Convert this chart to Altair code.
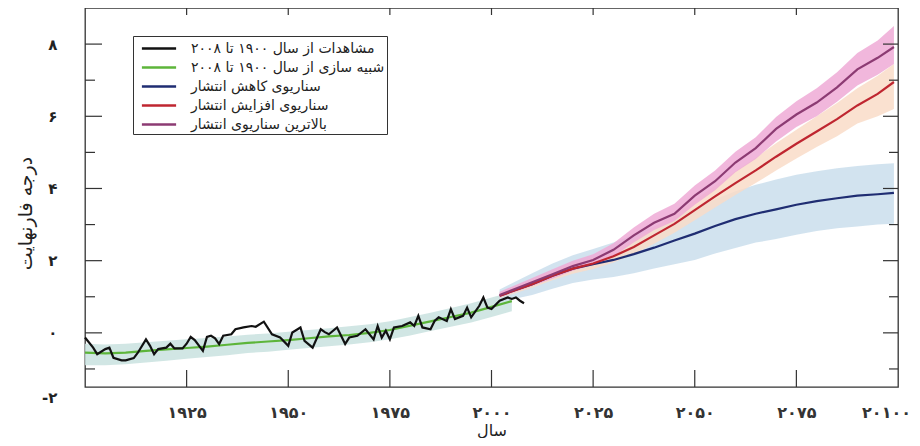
import json
import altair as alt
import pandas as pd

# ---------------- data ----------------
series_labels = [
    "مشاهدات از سال ۱۹۰۰ تا ۲۰۰۸",
    "شبیه سازی از سال ۱۹۰۰ تا ۲۰۰۸",
    "سناریوی کاهش انتشار",
    "سناریوی افزایش انتشار",
    "بالاترین سناریوی انتشار",
]
series_colors = ["#111111", "#5db53a", "#1f2d72", "#bf2630", "#8c3b73"]

obs_years = [1900, 1902, 1903, 1905, 1906, 1907, 1909, 1910, 1912, 1913, 1915, 1916,
             1917, 1918, 1920, 1921, 1922, 1924, 1925, 1926, 1927, 1929, 1930, 1931,
             1932, 1933, 1934, 1936, 1937, 1939, 1941, 1942, 1944, 1946, 1948, 1950,
             1951, 1953, 1954, 1956, 1958, 1959, 1960, 1962, 1964, 1965, 1967, 1969,
             1971, 1972, 1973, 1974, 1975, 1976, 1978, 1980, 1981, 1982, 1983, 1985,
             1986, 1987, 1989, 1990, 1991, 1993, 1994, 1995, 1997, 1998, 1999, 2000,
             2002, 2004, 2005, 2006, 2007, 2008]
obs_values = [-0.13, -0.41, -0.59, -0.45, -0.41, -0.69, -0.76, -0.76, -0.70, -0.55, -0.18, -0.36,
              -0.59, -0.45, -0.41, -0.30, -0.43, -0.43, -0.30, -0.11, -0.20, -0.50, -0.11, -0.08,
              -0.15, -0.31, -0.08, -0.04, 0.10, 0.15, 0.19, 0.17, 0.31, -0.04, -0.13, -0.36,
              0.01, 0.15, -0.22, -0.41, 0.10, 0.02, -0.04, 0.15, -0.31, -0.13, -0.08, 0.10,
              -0.18, 0.19, -0.13, 0.06, -0.18, 0.15, 0.19, 0.29, 0.19, 0.47, 0.15, 0.10,
              0.33, 0.43, 0.33, 0.66, 0.38, 0.47, 0.70, 0.43, 0.75, 0.98, 0.70, 0.66,
              0.89, 0.98, 0.94, 0.98, 0.89, 0.82]

sim_years = [1900, 1905, 1910, 1915, 1920, 1925, 1930, 1935, 1940, 1945, 1950,
             1955, 1960, 1965, 1970, 1975, 1980, 1985, 1990, 1995, 2000, 2005]
sim_values = [-0.55, -0.57, -0.55, -0.50, -0.46, -0.42, -0.38, -0.33, -0.28, -0.24, -0.20,
              -0.15, -0.10, -0.06, 0.00, 0.08, 0.20, 0.32, 0.44, 0.56, 0.72, 0.88]
sim_lo = [-0.90, -0.90, -0.87, -0.82, -0.77, -0.72, -0.67, -0.62, -0.56, -0.52, -0.47,
          -0.42, -0.37, -0.32, -0.26, -0.18, -0.07, 0.05, 0.17, 0.29, 0.44, 0.60]
sim_hi = [-0.30, -0.32, -0.30, -0.26, -0.22, -0.18, -0.14, -0.10, -0.05, -0.02, 0.03,
          0.08, 0.13, 0.18, 0.24, 0.32, 0.44, 0.56, 0.69, 0.82, 0.98, 1.13]

proj_years = [2002, 2010, 2015, 2020, 2025, 2030, 2035, 2040, 2045, 2050,
              2055, 2060, 2065, 2070, 2075, 2080, 2085, 2090, 2095, 2099]

low_values = [1.03, 1.35, 1.58, 1.78, 1.90, 2.02, 2.18, 2.36, 2.56, 2.75,
              2.96, 3.15, 3.30, 3.42, 3.55, 3.65, 3.73, 3.80, 3.84, 3.88]
low_lo = [0.85, 1.05, 1.22, 1.38, 1.48, 1.55, 1.65, 1.78, 1.90, 2.02,
          2.20, 2.35, 2.50, 2.60, 2.72, 2.82, 2.90, 2.95, 3.00, 3.02]
low_hi = [1.20, 1.65, 1.92, 2.15, 2.32, 2.50, 2.72, 2.95, 3.20, 3.45,
          3.70, 3.92, 4.10, 4.25, 4.38, 4.48, 4.56, 4.62, 4.67, 4.70]

mid_values = [1.03, 1.35, 1.58, 1.78, 1.92, 2.12, 2.38, 2.70, 3.02, 3.40,
              3.78, 4.15, 4.50, 4.88, 5.24, 5.58, 5.92, 6.30, 6.62, 6.95]
mid_lo = [0.96, 1.25, 1.46, 1.64, 1.77, 1.95, 2.18, 2.47, 2.77, 3.12,
          3.47, 3.82, 4.15, 4.50, 4.83, 5.15, 5.45, 5.80, 6.00, 6.20]
mid_hi = [1.12, 1.48, 1.72, 1.93, 2.08, 2.30, 2.58, 2.93, 3.27, 3.68,
          4.08, 4.48, 4.85, 5.25, 5.63, 6.00, 6.37, 6.78, 7.12, 7.45]

high_values = [1.05, 1.40, 1.62, 1.85, 2.02, 2.30, 2.70, 3.05, 3.30, 3.80,
               4.20, 4.72, 5.12, 5.65, 6.05, 6.38, 6.80, 7.30, 7.62, 7.92]
high_lo = [0.98, 1.30, 1.50, 1.72, 1.88, 2.12, 2.50, 2.85, 3.10, 3.55,
           3.95, 4.45, 4.82, 5.30, 5.70, 6.00, 6.40, 6.85, 7.15, 7.45]
high_hi = [1.14, 1.52, 1.76, 2.00, 2.18, 2.48, 2.92, 3.30, 3.58, 4.08,
           4.50, 5.02, 5.42, 5.98, 6.42, 6.78, 7.22, 7.75, 8.10, 8.50]

band_colors = {"sim": "#c9e2df", "low": "#cadeec", "mid": "#f9dcc8", "high": "#eeaad6"}

x_tick_values = [1925, 1950, 1975, 2000, 2025, 2050, 2075, 2100]
x_tick_labels = ["۱۹۲۵", "۱۹۵۰", "۱۹۷۵", "۲۰۰۰", "۲۰۲۵", "۲۰۵۰", "۲۰۷۵", "۲۰۱۰۰"]
y_tick_values = [-1.5, 0, 2, 4, 6, 8]
y_tick_labels = ["-۲", "۰", "۲", "۴", "۶", "۸"]
y_minor_values = [-1, 1, 3, 5, 7]

x_title = "سال"
y_title = "درجه فارنهایت"

# ---------------- tables ----------------
lines = []
for y, v in zip(obs_years, obs_values):
    lines.append({"year": y, "value": v, "series": series_labels[0]})
for y, v in zip(sim_years, sim_values):
    lines.append({"year": y, "value": v, "series": series_labels[1]})
for vals, lab in [(low_values, series_labels[2]), (mid_values, series_labels[3]),
                  (high_values, series_labels[4])]:
    for y, v in zip(proj_years, vals):
        lines.append({"year": y, "value": v, "series": lab})
lines_df = pd.DataFrame(lines)

bands = []
for y, lo, hi in zip(sim_years, sim_lo, sim_hi):
    bands.append({"year": y, "lo": lo, "hi": hi, "band": "sim"})
for key, los, his in [("low", low_lo, low_hi), ("mid", mid_lo, mid_hi), ("high", high_lo, high_hi)]:
    for y, lo, hi in zip(proj_years, los, his):
        bands.append({"year": y, "lo": lo, "hi": hi, "band": key})
bands_df = pd.DataFrame(bands)

ticks_df = pd.DataFrame(
    [{"v": v, "kind": "ymajor"} for v in y_tick_values if v >= 0]
    + [{"v": v, "kind": "yminor"} for v in y_minor_values]
    + [{"v": v, "kind": "x"} for v in x_tick_values[:-1]]
)

# ---------------- chart ----------------
W, H = 813, 379
FONT = "DejaVu Sans"

x_scale = alt.Scale(domain=[1900, 2100], nice=False, zero=False)
y_scale = alt.Scale(domain=[-1.5, 9], nice=False, zero=False)

x_label_expr = "%s[indexof(%s, datum.value)]" % (
    json.dumps(x_tick_labels, ensure_ascii=False), json.dumps(x_tick_values))
y_label_expr = "%s[indexof(%s, datum.value)]" % (
    json.dumps(y_tick_labels, ensure_ascii=False), json.dumps(y_tick_values))

x_axis = alt.Axis(values=x_tick_values, labelExpr=x_label_expr, ticks=False, domain=False,
                  grid=False, title=x_title, labelFontSize=16, labelPadding=17,
                  labelFont=FONT, labelColor="#333333", labelFontWeight="bold",
                  labelOffset={"condition": {"test": "datum.value > 2090", "value": -12}, "value": 0},
                  titleFont=FONT, titleFontSize=16, titleFontWeight="normal",
                  titleColor="#222222", titlePadding=2, labelFlush=False)
y_axis = alt.Axis(values=y_tick_values, labelExpr=y_label_expr, ticks=False, domain=False,
                  grid=False, title=y_title, labelFontSize=15, labelPadding=28,
                  labelFont=FONT, labelColor="#222222", labelFontWeight="bold",
                  labelOffset={"condition": {"test": "datum.value < 0", "value": 10}, "value": 0},
                  titleFont=FONT, titleFontSize=19, titleFontWeight="normal",
                  titleColor="#222222", titlePadding=6, titleY=205, labelFlush=False)

def X(field):
    return alt.X(field, type="quantitative", scale=x_scale, axis=x_axis)

def Y(field):
    return alt.Y(field, type="quantitative", scale=y_scale, axis=y_axis)

legend = alt.Legend(orient="none", legendX=48, legendY=28, title=None,
                    strokeColor="#333333", fillColor="white", padding=2,
                    symbolType="M-0.4,0H3.4", symbolSize=324, symbolStrokeWidth=2.5,
                    labelFontSize=14, labelFont=FONT, labelColor="#222222",
                    labelLimit=400, rowPadding=1, labelOffset=35, cornerRadius=0)
color_enc = alt.Color("series:N", scale=alt.Scale(domain=series_labels, range=series_colors),
                      legend=legend)

layers = []
for key in ["sim", "low", "mid", "high"]:
    layers.append(
        alt.Chart(bands_df).transform_filter(alt.datum.band == key)
        .mark_area(color=band_colors[key], opacity=0.85)
        .encode(x=X("year"), y=Y("lo"), y2="hi")
    )

for lab, width in [(series_labels[1], 2.2), (series_labels[2], 2.2), (series_labels[3], 2.2),
                   (series_labels[4], 2.2), (series_labels[0], 2.2)]:
    layers.append(
        alt.Chart(lines_df).transform_filter(alt.datum.series == lab)
        .mark_line(strokeWidth=width)
        .encode(x=X("year"), y=Y("value"), color=color_enc)
    )

# inward tick marks
tick_base = alt.Chart(ticks_df)
layers += [
    tick_base.transform_filter(alt.datum.kind == "ymajor").mark_rule(color="#333", strokeWidth=1.2)
    .encode(y=Y("v"), x=alt.value(0), x2=alt.value(17)),
    tick_base.transform_filter(alt.datum.kind == "yminor").mark_rule(color="#333", strokeWidth=1.2)
    .encode(y=Y("v"), x=alt.value(0), x2=alt.value(10)),
    tick_base.transform_filter(alt.datum.kind == "ymajor").mark_rule(color="#333", strokeWidth=1.2)
    .encode(y=Y("v"), x=alt.value(W), x2=alt.value(W - 15)),
    tick_base.transform_filter(alt.datum.kind == "yminor").mark_rule(color="#333", strokeWidth=1.2)
    .encode(y=Y("v"), x=alt.value(W), x2=alt.value(W - 9)),
    tick_base.transform_filter(alt.datum.kind == "x").mark_rule(color="#333", strokeWidth=1.2)
    .encode(x=X("v"), y=alt.value(H), y2=alt.value(H - 17)),
    tick_base.transform_filter(alt.datum.kind == "x").mark_rule(color="#333", strokeWidth=1.2)
    .encode(x=X("v"), y=alt.value(0), y2=alt.value(7)),
]

chart = (
    alt.layer(*layers)
    .properties(width=W, height=H, autosize=alt.AutoSizeParams(type="none"),
                padding={"left": 77, "top": 0, "right": 14, "bottom": 51},
                background="white")
    .configure_view(stroke="#333333", strokeWidth=1.3)
)

chart.save("out.html", embed_options={"renderer": "svg", "actions": False})
